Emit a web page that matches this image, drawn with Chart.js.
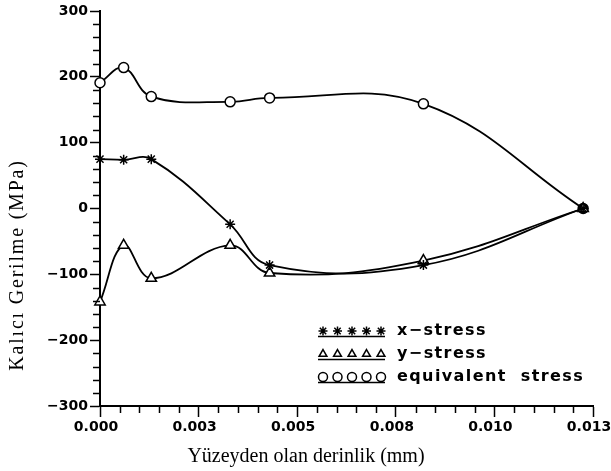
<!DOCTYPE html>
<html>
<head>
<meta charset="utf-8">
<script src="https://cdn.jsdelivr.net/npm/chart.js"></script>
<style>
  html, body { margin: 0; padding: 0; background: #fff; }
  #wrap { width: 611px; height: 471px; }
</style>
</head>
<body>
<div id="wrap"><canvas id="myChart" width="611" height="471"></canvas></div>
<script>
// values (depth in mm, stress in MPa)
var xStress = [
  [0, 75], [0.0006, 74], [0.0013, 75], [0.0033, -24], [0.0043, -86], [0.0082, -86], [0.01225, 0]
];
var yStress = [
  [0, -142], [0.0006, -56], [0.0013, -106], [0.0033, -56], [0.0043, -98], [0.0082, -79], [0.01225, 0]
];
var eqStress = [
  [0, 191], [0.0006, 214], [0.0013, 170], [0.0033, 162], [0.0043, 168], [0.0082, 159], [0.01225, 0]
];
var xTickLabels = ['0.000', '0.003', '0.005', '0.008', '0.010', '0.013'];
var yTickLabels = ['\u2212300', '\u2212200', '\u2212100', '0', '100', '200', '300'];
var seriesNames = ['x\u2212stress', 'y\u2212stress', 'equivalent  stress'];
var xTitle = 'Yüzeyden olan derinlik (mm)';
var yTitle = 'Kalıcı Gerilme (MPa)';

function toPoints(arr) {
    return arr.map(function (p) { return { x: p[0], y: p[1] }; });
}

// the shared end point is drawn as a black blob in the original
function endFill(c) {
    return c.dataIndex === c.dataset.data.length - 1 ? '#000' : '#fff';
}

var tickFont = { family: 'DejaVu Sans', size: 14, weight: 'bold' };

// short minor ticks, titles and the in-plot legend
var extras = {
    id: 'extras',
    afterDraw: function (chart) {
        var ctx = chart.ctx;
        var xs = chart.scales.x, ys = chart.scales.y;
        var area = chart.chartArea;
        ctx.save();
        ctx.strokeStyle = '#000';
        ctx.lineWidth = 1.5;
        ctx.beginPath();
        for (var v = -300; v <= 300; v += 20) {
            if (v % 100 === 0) continue;
            var py = Math.round(ys.getPixelForValue(v)) + 0.5;
            ctx.moveTo(area.left - 7, py);
            ctx.lineTo(area.left, py);
        }
        for (var k = 0; k <= 25; k++) {
            if (k % 5 === 0) continue;
            var px = Math.round(xs.getPixelForValue(k * 0.0005)) + 0.5;
            ctx.moveTo(px, area.bottom);
            ctx.lineTo(px, area.bottom + 7);
        }
        ctx.stroke();

        // axis titles
        ctx.fillStyle = '#000';
        ctx.font = '20px "Liberation Serif"';
        ctx.textAlign = 'center';
        ctx.textBaseline = 'middle';
        ctx.fillText(xTitle, 306, 457);
        ctx.save();
        ctx.translate(18, 265);
        ctx.rotate(-Math.PI / 2);
        ctx.letterSpacing = '1.8px';
        ctx.fillText(yTitle, 0, 0);
        ctx.restore();

        // legend
        var styles = ['star', 'triangle', 'circle'];
        var rowY = [331, 354, 377];
        ctx.font = 'bold 16px "DejaVu Sans"';
        ctx.letterSpacing = '1.4px';
        ctx.textAlign = 'left';
        for (var r = 0; r < 3; r++) {
            ctx.fillStyle = '#fff';
            for (var m = 0; m < 5; m++) {
                Chart.helpers.drawPoint(ctx, {
                    pointStyle: styles[r], radius: 4.5, borderWidth: 1.5, rotation: 0
                }, 323 + m * 14.5, rowY[r]);
            }
            ctx.beginPath();
            ctx.moveTo(318, rowY[r] + 5.5);
            ctx.lineTo(385, rowY[r] + 5.5);
            ctx.stroke();
            ctx.fillStyle = '#000';
            ctx.fillText(seriesNames[r], 397, rowY[r]);
        }
        ctx.restore();
    }
};

var ctx = document.getElementById('myChart');

var myChart = new Chart(ctx, {
    type: 'line',
    data: {
        datasets: [{
            label: seriesNames[0],
            data: toPoints(xStress),
            pointStyle: 'star',
            pointRadius: 5
        }, {
            label: seriesNames[1],
            data: toPoints(yStress),
            pointStyle: 'triangle',
            pointRadius: 6
        }, {
            label: seriesNames[2],
            data: toPoints(eqStress),
            pointStyle: 'circle',
            pointRadius: 5,
            pointBackgroundColor: endFill
        }]
    },
    options: {
        responsive: false,
        animation: false,
        layout: { padding: { top: 11, right: 18, left: 0, bottom: 0 } },
        datasets: { line: { clip: false } },
        elements: {
            line: { borderColor: '#000', borderWidth: 1.8, tension: 0.4, fill: false },
            point: { borderColor: '#000', backgroundColor: '#fff', borderWidth: 1.5 }
        },
        plugins: {
            legend: { display: false },
            tooltip: { enabled: false }
        },
        scales: {
            x: {
                type: 'linear',
                min: 0,
                max: 0.0125,
                afterFit: function (s) {
                    s.height = 65;
                    s.paddingLeft = 0;
                    s.paddingRight = 0;
                },
                afterBuildTicks: function (s) {
                    s.ticks = xTickLabels.map(function (t, i) { return { value: i * 0.0025 }; });
                },
                ticks: {
                    color: '#000',
                    font: tickFont,
                    padding: 2,
                    labelOffset: -4,
                    maxRotation: 0,
                    callback: function (v, i) { return xTickLabels[i]; }
                },
                grid: { drawOnChartArea: false, tickLength: 11, tickColor: '#000', tickWidth: 1.5 },
                border: { color: '#000', width: 2 }
            },
            y: {
                min: -300,
                max: 300,
                afterFit: function (s) { s.width = 100; },
                afterBuildTicks: function (s) {
                    s.ticks = yTickLabels.map(function (t, i) { return { value: -300 + i * 100 }; });
                },
                ticks: {
                    color: '#000',
                    font: tickFont,
                    padding: 2,
                    callback: function (v, i) { return yTickLabels[i]; }
                },
                grid: { drawOnChartArea: false, tickLength: 10, tickColor: '#000', tickWidth: 1.5 },
                border: { color: '#000', width: 2 }
            }
        }
    },
    plugins: [extras]
});
</script>
</body>
</html>
